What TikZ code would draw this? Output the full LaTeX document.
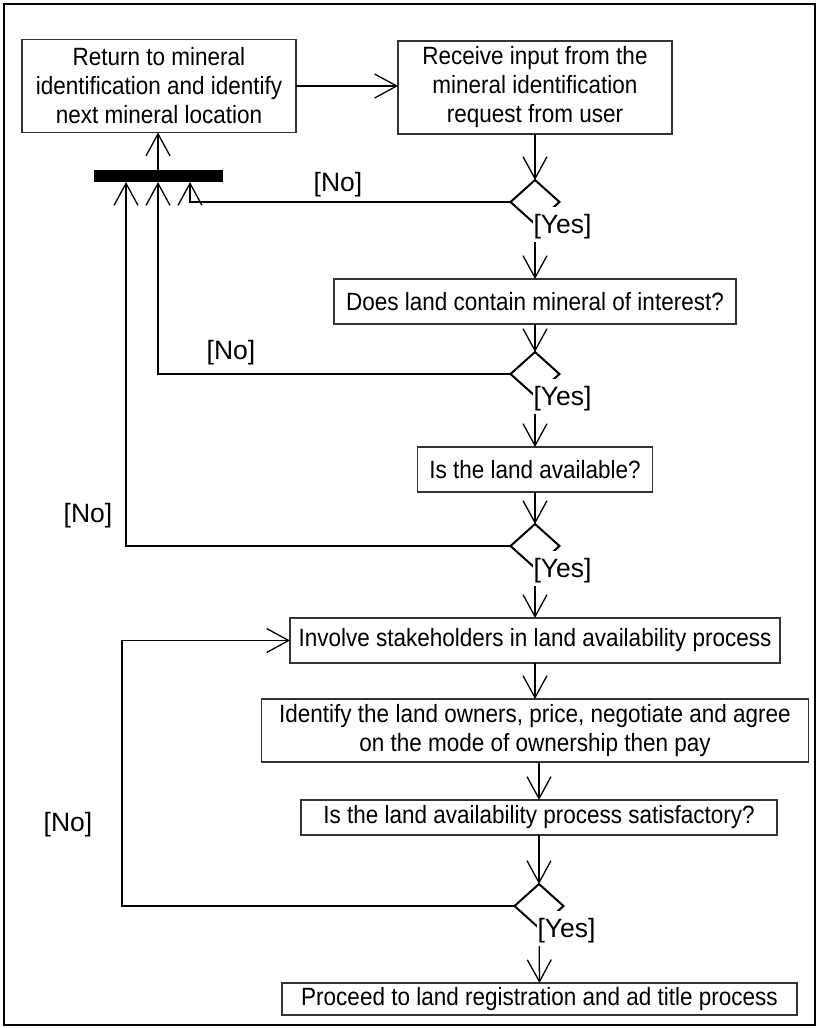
\documentclass[tikz,border=0pt]{standalone}
\usepackage{fontspec}
\setmainfont{Liberation Sans}
\newfontfamily\boxfont{Liberation Sans}[FakeStretch=0.9]
\usetikzlibrary{arrows.meta,shapes.geometric,calc}

\begin{document}
\begin{tikzpicture}[x=1pt,y=-1pt,
  every node/.style={inner sep=0pt, outer sep=0pt},
  action/.style={draw=black!80, line width=1.3pt, fill=white, align=center,
    font=\boxfont\fontsize{25}{29}\selectfont},
  choice/.style={draw=black, line width=2pt, shape=diamond,
    minimum width=49pt, minimum height=44pt},
  guard/.style={font=\fontsize{26.5}{30}\selectfont},
  yesguard/.style={guard, fill=white, anchor=north west, text height=26pt,
    text depth=9pt, inner xsep=0.5pt},
  flow/.style={line width=1.3pt, -{Straight Barb[length=22pt,width=24pt]}},
]
\useasboundingbox (0,0) rectangle (818,1028);

% outer frame
\draw[line width=2pt] (4,4) rectangle (815,1025);

% activities
\node[action, minimum width=274pt, minimum height=93pt] (B1) at (159,86)
  {Return to mineral\\identification and identify\\next mineral location};
\node[action, minimum width=274pt, minimum height=93pt] (B2) at (535,87.5)
  {Receive input from the\\mineral identification\\request from user};
\node[fill=black, minimum width=129pt, minimum height=12pt] (bar) at (158,176) {};
\node[choice] (D1) at (535,202) {};
\node[action, minimum width=402pt, minimum height=45pt] (B3) at (535,301.5)
  {Does land contain mineral of interest?};
\node[choice] (D2) at (535,374) {};
\node[action, minimum width=235pt, minimum height=45pt] (B4) at (535,469.5)
  {Is the land available?};
\node[choice] (D3) at (535,546) {};
\node[action, minimum width=490pt, minimum height=45pt] (B5) at (535,640.5)
  {Involve stakeholders in land availability process};
\node[action, minimum width=547pt, minimum height=63pt] (B6) at (535,730.5)
  {Identify the land owners, price, negotiate and agree\\on the mode of ownership then pay};
\node[action, minimum width=476pt, minimum height=35pt] (B7) at (539,817.5)
  {Is the land availability process satisfactory?};
\node[choice] (D4) at (539,906) {};
\node[action, minimum width=515pt, minimum height=32pt] (B8) at (539.5,999)
  {Proceed to land registration and ad title process};

\coordinate (loop) at (122,640.5);

% main flow
\draw[flow] (B1.east) -- (B1.east -| B2.west);
\draw[flow] (bar.north) -- (bar.north |- B1.south);
\draw[flow] (B2.south) -- (D1.north);
\draw[flow] (D1.south) -- (B3.north);
\draw[flow] (B3.south) -- (D2.north);
\draw[flow] (D2.south) -- (B4.north);
\draw[flow] (B4.south) -- (D3.north);
\draw[flow] (D3.south) -- (B5.north);
\draw[flow] (B5.south) -- (B6.north);
\draw[flow] (B6.south -| B7.north) -- (B7.north);
\draw[flow] (B7.south) -- (D4.north);
\draw[flow] (D4.south) -- (B8.north);

% rejections back to the join bar
\draw[flow] (D1.west) -| ([xshift=32pt]bar.south);
\draw[flow] (D2.west) -| (bar.south);
\draw[flow] (D3.west) -| ([xshift=-32pt]bar.south);
\draw[flow] (D4.west) -| (loop) -- (B5.west);

% guards
\node[guard] (N1) at (338,185) {[No]};
\node[guard] (N2) at (231,353) {[No]};
\node[guard] (N3) at (88,516) {[No]};
\node[guard] (N4) at (68,825) {[No]};
\node[yesguard] (Y1) at ($(D1.center)+(-2,5)$) {[Yes]};
\node[yesguard] (Y2) at ($(D2.center)+(-2,5)$) {[Yes]};
\node[yesguard] (Y3) at ($(D3.center)+(-2,5)$) {[Yes]};
\node[yesguard] (Y4) at ($(D4.center)+(-2,5)$) {[Yes]};
\end{tikzpicture}
\end{document}
